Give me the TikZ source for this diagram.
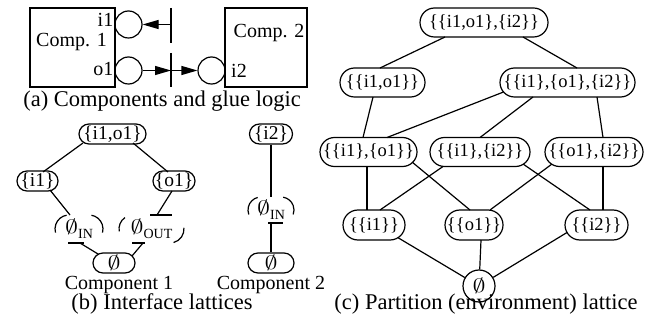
\RequirePackage{fix-cm}
\documentclass[tikz,border=0pt]{standalone}
\usepackage{graphicx}
\usepackage{fontspec}
\setmainfont{Liberation Serif}
\usetikzlibrary{arrows.meta,calc}
\newcommand\figlab{\fontsize{20}{24}\selectfont}
\newcommand\figlatb{\fontsize{19.5}{23}\selectfont}
\newcommand\figlatc{\fontsize{18.5}{22}\selectfont}
\newcommand\figcap{\fontsize{22.5}{27}\selectfont}
\newcommand\myempty{\resizebox*{13pt}{15.5pt}{$\emptyset$}}
\newcommand\subIN{\raisebox{-4.5pt}{\fontsize{14}{15}\selectfont IN}}
\newcommand\subOUT{\raisebox{-4.5pt}{\fontsize{14}{15}\selectfont OUT}}
\begin{document}
\begin{tikzpicture}[x=1pt,y=1pt,yscale=-1,
  every node/.style={font=\figlab, inner sep=0pt},
  ln/.style={line width=1.2pt},
  lat/.style={draw, line width=1.2pt, rectangle, rounded corners=10pt,
    minimum height=20pt, font=\figlatb},
  plat/.style={draw, line width=1.2pt, rectangle, rounded corners=14.5pt,
    minimum height=29pt, font=\figlatc},
  open/.style={minimum height=28pt, font=\figlatb},
  port/.style={draw, line width=1.2pt, circle, minimum size=27pt},
  box/.style={draw, line width=1.3pt, rectangle, minimum height=79pt},
  arr/.style={line width=1.2pt, -{Triangle[length=16pt,width=9pt]}},
  captext/.style={font=\figcap}]
\useasboundingbox (0,0) rectangle (668,320);

% ---------- (a) components and glue logic ----------
\node[box, minimum width=85pt] (c1) at (72.5,47.5) {};
\node (c1t) at (71.5,42) {Comp. 1};
\node[box, minimum width=82pt] (c2) at (266,47.5) {};
\node (c2t) at (269,33) {Comp. 2};
\node[anchor=east] (li1) at (113.5,20) {i1};
\node[anchor=east] (lo1) at (113.5,69) {o1};
\node[anchor=west] (li2) at (231,71) {i2};
\node[port] (p1) at (128.5,24.5) {};
\node[port] (p2) at (128.5,70.5) {};
\node[port] (p3) at (211.5,70.5) {};
\coordinate (b1t) at (171,8);
\coordinate (b1b) at (171,43);
\coordinate (b1m) at (171,24.5);
\coordinate (b2t) at (171,53);
\coordinate (b2b) at (171,87);
\coordinate (b2m) at (171,70.5);
\draw[ln] (b1t) -- (b1b);
\draw[ln] (b2t) -- (b2b);
\draw[arr] (b1m) -- (p1);
\draw[arr] (p2) -- (b2m);
\draw[arr] (b2m) -- (p3);
\node[captext] (capa) at (162,101) {(a) Components and glue logic};

% ---------- (b) interface lattices ----------
\node[lat, minimum width=67pt] (s12) at (112.5,134) {\{i1,o1\}};
\node[lat, minimum width=41pt] (si1) at (37.5,181) {\{i1\}};
\node[lat, minimum width=42pt] (so1) at (174,181) {\{o1\}};
\node[open, minimum width=48pt] (in1) at (79,229) {\myempty\subIN};
\node[open, minimum width=65pt] (out1) at (151.5,229) {\myempty\subOUT};
\node[lat, minimum width=42pt] (e1) at (114,263) {\myempty};
\node (k1) at (119,285) {Component 1};
\node[lat, minimum width=43pt] (si2) at (271,134) {\{i2\}};
\node[open, minimum width=46pt, minimum height=26pt] (in2) at (271,210) {\myempty\subIN};
\node[lat, minimum width=46pt] (e2) at (271,263) {\myempty};
\node (k2) at (271,285) {Component 2};
\node[captext] (capb) at (162,304) {(b) Interface lattices};

\draw[ln] ($(s12)+(-29.5,9)$) -- ($(si1)+(5.5,-9)$);
\draw[ln] ($(s12)+(20.5,9)$) -- ($(so1)+(-6,-9)$);
\draw[ln] ($(si1)+(12.5,9)$) -- ($(in1)+(-9,-14)$);
\draw[ln] ($(so1)+(-2,10)$) -- ($(out1)+(5.5,-14)$);
\draw[ln] ($(e1)+(-16,-9)$) -- ($(in1)+(1,14)$);
\draw[ln] ($(e1)+(18,-7)$) -- ($(out1)+(-8.5,14)$);
\draw[ln] (si2) -- (in2.north);
\draw[ln] (e2) -- (in2.south);

% partial outlines of the open elements
\draw[ln] ($(in1)+(-10,0)+(260:14)$) arc[start angle=260, end angle=165, radius=14];
\draw[ln] ($(in1)+(10,0)+(280:14)$) arc[start angle=280, end angle=375, radius=14];
\draw[ln] ($(in1)+(-11,14)$) -- ($(in1)+(5,14)$);
\draw[ln] ($(out1)+(-18.5,0)+(235:14)$) arc[start angle=235, end angle=170, radius=14];
\draw[ln] ($(out1)+(18.5,0)+(355:14)$) arc[start angle=355, end angle=435, radius=14];
\draw[ln] ($(out1)+(-1.5,-14)$) -- ($(out1)+(20.5,-14)$);
\draw[ln] ($(out1)+(-19.5,14)$) -- ($(out1)+(-6.5,14)$);
\draw[ln] ($(in2)+(-10,0)+(255:13)$) arc[start angle=255, end angle=160, radius=13];
\draw[ln] ($(in2)+(10,0)+(280:13)$) arc[start angle=280, end angle=380, radius=13];
\draw[ln] ($(in2)+(-3,13)$) -- ($(in2)+(12,13)$);

% ---------- (c) partition lattice ----------
\node[plat, minimum width=128pt] (T) at (484,22.5) {\{\{i1,o1\},\{i2\}\}};
\node[plat, minimum width=85pt] (A) at (382.5,82.5) {\{\{i1,o1\}\}};
\node[plat, minimum width=135pt] (B) at (567.5,82.5) {\{\{i1\},\{o1\},\{i2\}\}};
\node[plat, minimum width=97pt] (C) at (368.5,152) {\{\{i1\},\{o1\}\}};
\node[plat, minimum width=100pt] (D) at (480,152) {\{\{i1\},\{i2\}\}};
\node[plat, minimum width=98pt] (E) at (594,152) {\{\{o1\},\{i2\}\}};
\node[plat, minimum width=62pt, minimum height=30pt, rounded corners=15pt] (F) at (374,225) {\{\{i1\}\}};
\node[plat, minimum width=58pt, minimum height=30pt, rounded corners=15pt] (G) at (474,225) {\{\{o1\}\}};
\node[plat, minimum width=63pt, minimum height=30pt, rounded corners=15pt] (H) at (596.5,225) {\{\{i2\}\}};
\node[draw, circle, line width=1.2pt, minimum size=32pt, font=\figlatc] (Z) at (479,286) {\myempty};
\node[captext] (capc) at (486,304) {(c) Partition (environment) lattice};

\draw[ln] ($(T)+(-39,14.5)$) -- ($(A)+(-2.5,-14.5)$);
\draw[ln] ($(T)+(39,14.5)$) -- ($(B)+(9.5,-14.5)$);
\draw[ln] ($(A)+(-9.5,14.5)$) -- ($(C)+(-5.5,-14.5)$);
\draw[ln] ($(B)+(-64,9.5)$) -- ($(C)+(18.5,-14.5)$);
\draw[ln] ($(B)+(-34.5,14.5)$) -- ($(D)+(0,-14.5)$);
\draw[ln] ($(B)+(29.5,14.5)$) -- ($(E)+(9,-14.5)$);
\draw[ln] ($(C)+(-1.5,14.5)$) -- ($(F)+(-7,-15)$);
\draw[ln] ($(C)+(43.5,10)$) -- ($(G)+(-4,-15)$);
\draw[ln] ($(D)+(-37,14.5)$) -- ($(F)+(6,-15)$);
\draw[ln] ($(D)+(43,12)$) -- ($(H)+(-6.5,-15)$);
\draw[ln] ($(E)+(-42,12)$) -- ($(G)+(16,-15)$);
\draw[ln] ($(E)+(9,14.5)$) -- ($(H)+(6.5,-15)$);
\draw[ln] ($(F)+(24,12.7)$) -- (Z);
\draw[ln] ($(G)+(7,15)$) -- (Z);
\draw[ln] ($(H)+(-29.5,7.5)$) -- (Z);
\end{tikzpicture}
\end{document}
